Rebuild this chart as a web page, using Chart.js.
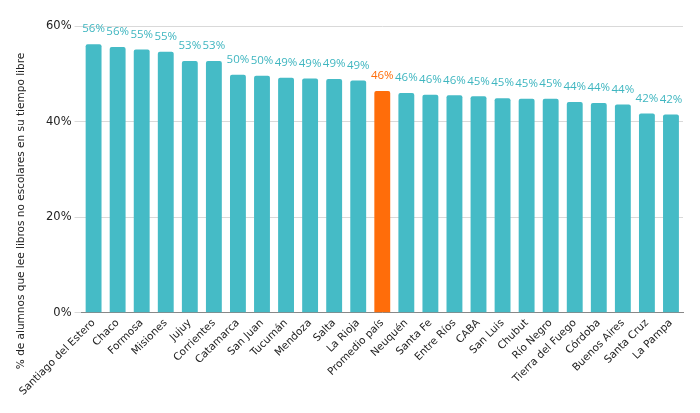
<!DOCTYPE html>
<html>
<head>
<meta charset="utf-8">
<script src="https://cdn.jsdelivr.net/npm/chart.js@4"></script>
<style>
  html, body { margin: 0; padding: 0; background: #fff; }
  #wrap { width: 700px; height: 413px; }
</style>
</head>
<body>
<div id="wrap"><canvas id="lectura"></canvas></div>
<script>
// categorias y valores (% de alumnos)
const provincias = [
  "Santiago del Estero", "Chaco", "Formosa", "Misiones", "Jujuy", "Corrientes",
  "Catamarca", "San Juan", "Tucumán", "Mendoza", "Salta", "La Rioja",
  "Promedio país", "Neuquén", "Santa Fe", "Entre Ríos", "CABA", "San Luis",
  "Chubut", "Río Negro", "Tierra del Fuego", "Córdoba", "Buenos Aires",
  "Santa Cruz", "La Pampa"
];
const valores = [
  56.2, 55.6, 55.1, 54.6, 52.7, 52.7,
  49.8, 49.6, 49.2, 49.0, 48.9, 48.6,
  46.4, 46.0, 45.6, 45.5, 45.3, 44.9,
  44.8, 44.8, 44.1, 43.9, 43.6,
  41.7, 41.5
];
const yTicks = [0, 20, 40, 60];
const tituloY = "% de alumnos que lee libros no escolares en su tiempo libre";

const teal = "#45bbc6";
const orange = "#ff6d0a";
const colores = provincias.map(p => p === "Promedio país" ? orange : teal);
const coloresTexto = provincias.map(p => p === "Promedio país" ? "#ff6d0a" : "#3fb6c0");

// etiquetas sobre cada barra y titulo del eje
const etiquetas = {
  id: "etiquetas",
  afterDatasetsDraw(chart) {
    const ctx = chart.ctx;
    const meta = chart.getDatasetMeta(0);
    ctx.save();
    ctx.font = "11.5px 'Open Sans'";
    ctx.textAlign = "center";
    ctx.textBaseline = "middle";
    meta.data.forEach((bar, i) => {
      ctx.fillStyle = coloresTexto[i];
      ctx.fillText(Math.round(valores[i]) + "%", bar.x, bar.y - 15);
    });
    ctx.restore();

    // el titulo va centrado en el alto del lienzo, no del area
    ctx.save();
    ctx.translate(21, 211);
    ctx.rotate(-Math.PI / 2);
    ctx.font = "10.5px 'DejaVu Sans'";
    ctx.fillStyle = "#222";
    ctx.textAlign = "center";
    ctx.textBaseline = "middle";
    ctx.fillText(tituloY, 0, 0);
    ctx.restore();
  }
};

const ctx = document.getElementById("lectura").getContext("2d");
new Chart(ctx, {
  type: "bar",
  data: {
    labels: provincias,
    datasets: [{
      data: valores,
      backgroundColor: colores,
      borderRadius: 2,
      borderSkipped: "bottom",
      barPercentage: 0.66,
      categoryPercentage: 1
    }]
  },
  options: {
    responsive: true,
    maintainAspectRatio: false,
    animation: false,
    layout: { padding: { top: 26, right: 17, left: 43, bottom: 11 } },
    plugins: {
      legend: { display: false },
      tooltip: { enabled: false }
    },
    scales: {
      x: {
        grid: { display: false, drawTicks: false },
        border: { color: "#888", width: 1 },
        ticks: {
          autoSkip: false,
          maxRotation: 45,
          minRotation: 45,
          color: "#222",
          padding: 4,
          font: { family: "DejaVu Sans", size: 10.5 }
        }
      },
      y: {
        min: 0,
        max: 60,
        afterBuildTicks(axis) {
          axis.ticks = yTicks.map(v => ({ value: v }));
        },
        grid: { color: "#d9d9d9", tickLength: 7 },
        border: { display: false },
        ticks: {
          color: "#222",
          padding: 3,
          font: { family: "DejaVu Sans", size: 11.5 },
          callback: v => v + "%"
        }
      }
    }
  },
  plugins: [etiquetas]
});
</script>
</body>
</html>
